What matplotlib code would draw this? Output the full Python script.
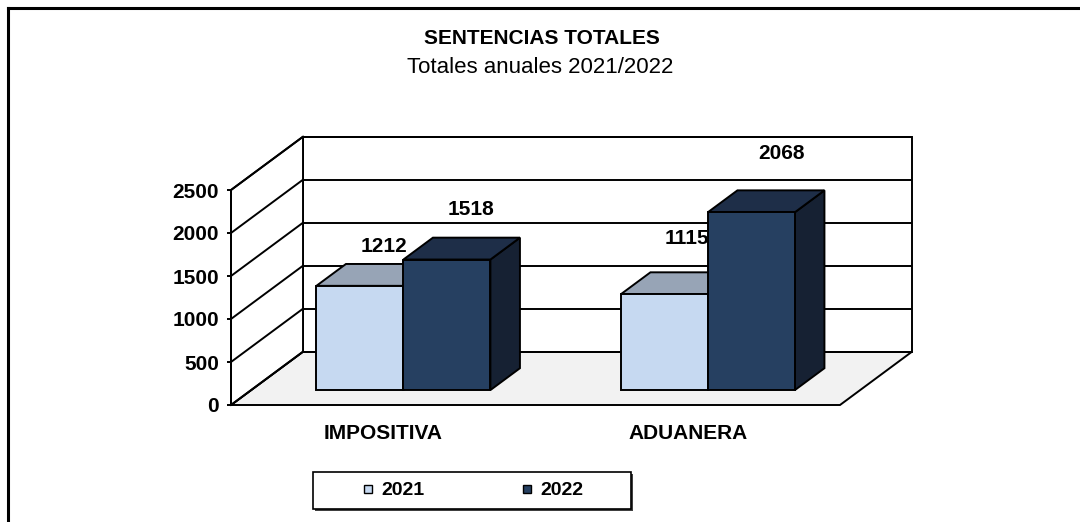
import matplotlib
matplotlib.use("Agg")
import matplotlib.pyplot as plt
from matplotlib.patches import Polygon, Rectangle
from matplotlib.lines import Line2D

# ---------------- data ----------------
categories = ["IMPOSITIVA", "ADUANERA"]
series_names = ["2021", "2022"]
values_2021 = [1212, 1115]
values_2022 = [1518, 2068]
y_ticks = [0, 500, 1000, 1500, 2000, 2500]
title = "SENTENCIAS TOTALES"
subtitle = "Totales anuales 2021/2022"

# ---------------- style / layout ----------------
plt.rcParams['font.family'] = ['Liberation Sans', 'DejaVu Sans']
front_cols = ["#C6D9F1", "#264061"]
top_cols = ["#97A4B6", "#1E2E48"]
side_cols = ["#8A97A8", "#162133"]
floor_col = "#F2F2F2"
LW = 1.4
W = 1080
H = 522

fig = plt.figure(figsize=(W / 100, H / 100), dpi=100)
ax = fig.add_axes([231 / W, 117 / H, 609 / W, 215 / H])
ax.set_xlim(-0.5, 1.5)
ax.set_ylim(0, 2500)
ax.patch.set_facecolor("none")

# depth vector of the whole plot box (data units)
DX = 0.2365
DY = 620.0
d0, d1 = 0.28, 0.69      # bar depth range (fractions)
bw = 0.2857              # bar width

x0, x1 = -0.5, 1.5
ymax = y_ticks[-1]

# floor
ax.add_patch(Polygon([(x0, 0), (x1, 0), (x1 + DX, DY), (x0 + DX, DY)],
                     closed=True, facecolor=floor_col, edgecolor="black",
                     lw=LW, clip_on=False, zorder=1))
# back wall
ax.add_patch(Polygon([(x0 + DX, DY), (x1 + DX, DY), (x1 + DX, ymax + DY),
                      (x0 + DX, ymax + DY)], closed=True, facecolor="white",
                     edgecolor="black", lw=LW, clip_on=False, zorder=1))
# left wall
ax.add_patch(Polygon([(x0, 0), (x0, ymax), (x0 + DX, ymax + DY), (x0 + DX, DY)],
                     closed=True, facecolor="white", edgecolor="black",
                     lw=LW, clip_on=False, zorder=1))
# gridlines on back and left walls
for v in y_ticks:
    ax.plot([x0 + DX, x1 + DX], [v + DY, v + DY], color="black", lw=LW,
            clip_on=False, zorder=1.5, solid_capstyle="butt")
    ax.plot([x0, x0 + DX], [v, v + DY], color="black", lw=LW,
            clip_on=False, zorder=1.5)

# value labels (drawn behind the bars)
label_offsets = [[(17, 28), (17, 36)], [(16.5, 40), (21.5, 42.5)]]
series = [values_2021, values_2022]
for ci in range(len(categories)):
    for si in range(len(series)):
        v = series[si][ci]
        left = ci - bw + si * bw + d0 * DX
        xc = left + bw / 2
        ax.annotate(str(v), (xc, v + d0 * DY), xytext=label_offsets[ci][si],
                    textcoords="offset points", ha="center", va="center",
                    fontsize=15, fontweight="bold", zorder=2,
                    annotation_clip=False)

# bars
for ci in range(len(categories)):
    for si in range(len(series)):
        v = series[si][ci]
        xl = ci - bw + si * bw + d0 * DX
        xr = xl + bw
        yb = d0 * DY
        yt = v + d0 * DY
        ddx = (d1 - d0) * DX
        ddy = (d1 - d0) * DY
        z = 3 + ci * 2 + si
        # side
        ax.add_patch(Polygon([(xr, yb), (xr, yt), (xr + ddx, yt + ddy),
                              (xr + ddx, yb + ddy)], closed=True,
                             facecolor=side_cols[si], edgecolor="black",
                             lw=LW, clip_on=False, zorder=z, joinstyle="miter"))
        # top
        ax.add_patch(Polygon([(xl, yt), (xr, yt), (xr + ddx, yt + ddy),
                              (xl + ddx, yt + ddy)], closed=True,
                             facecolor=top_cols[si], edgecolor="black",
                             lw=LW, clip_on=False, zorder=z, joinstyle="miter"))
        # front
        ax.add_patch(Rectangle((xl, yb), bw, v, facecolor=front_cols[si],
                               edgecolor="black", lw=LW, clip_on=False,
                               zorder=z, joinstyle="miter"))

# axes / ticks
for s in ["top", "right", "bottom"]:
    ax.spines[s].set_visible(False)
ax.spines["left"].set_linewidth(LW)
ax.spines["left"].set_zorder(2)
ax.set_yticks(y_ticks)
ax.set_yticklabels([str(t) for t in y_ticks])
ax.tick_params(axis="y", direction="out", length=3, width=LW, pad=5.5,
               labelsize=15)
for lab in ax.get_yticklabels():
    lab.set_fontweight("bold")
ax.set_xticks(range(len(categories)))
ax.set_xticklabels(categories)
ax.tick_params(axis="x", length=0, pad=14, labelsize=15)
for lab in ax.get_xticklabels():
    lab.set_fontweight("bold")

# titles
fig.text(542 / W, 1 - 38 / H, title, ha="center", va="center",
         fontsize=15, fontweight="bold")
fig.text(540 / W, 1 - 67.5 / H, subtitle, ha="center", va="center",
         fontsize=16)

# outer border (top and left only visible)
fig.add_artist(Line2D([8 / W, 8 / W], [0, 1 - 8 / H], color="black", lw=2.2,
                      transform=fig.transFigure))
fig.add_artist(Line2D([8 / W, 1], [1 - 8 / H, 1 - 8 / H], color="black", lw=2.2,
                      transform=fig.transFigure))

# legend frame with shadow
lx0, lx1, ly0, ly1 = 313, 631, 472, 509
fig.add_artist(Rectangle(((lx0 + 2) / W, 1 - (ly1 + 2) / H), (lx1 - lx0) / W,
                         (ly1 - ly0) / H, transform=fig.transFigure,
                         facecolor="#404040", edgecolor="none"))
fig.add_artist(Rectangle((lx0 / W, 1 - ly1 / H), (lx1 - lx0) / W,
                         (ly1 - ly0) / H, transform=fig.transFigure,
                         facecolor="white", edgecolor="black", lw=1.2))
handles = [Line2D([], [], marker="s", ls="none", markersize=6,
                  markerfacecolor=front_cols[i], markeredgecolor="black",
                  markeredgewidth=1.0) for i in range(len(series_names))]
fig.legend(handles, series_names, loc="center",
           bbox_to_anchor=((lx0 + lx1) / 2 / W, 1 - (ly0 + ly1) / 2 / H),
           ncol=2, frameon=False, handlelength=0.8, handletextpad=0.31,
           columnspacing=4.85, prop={"size": 14, "weight": "bold"})

fig.savefig("out.png", dpi=100)
